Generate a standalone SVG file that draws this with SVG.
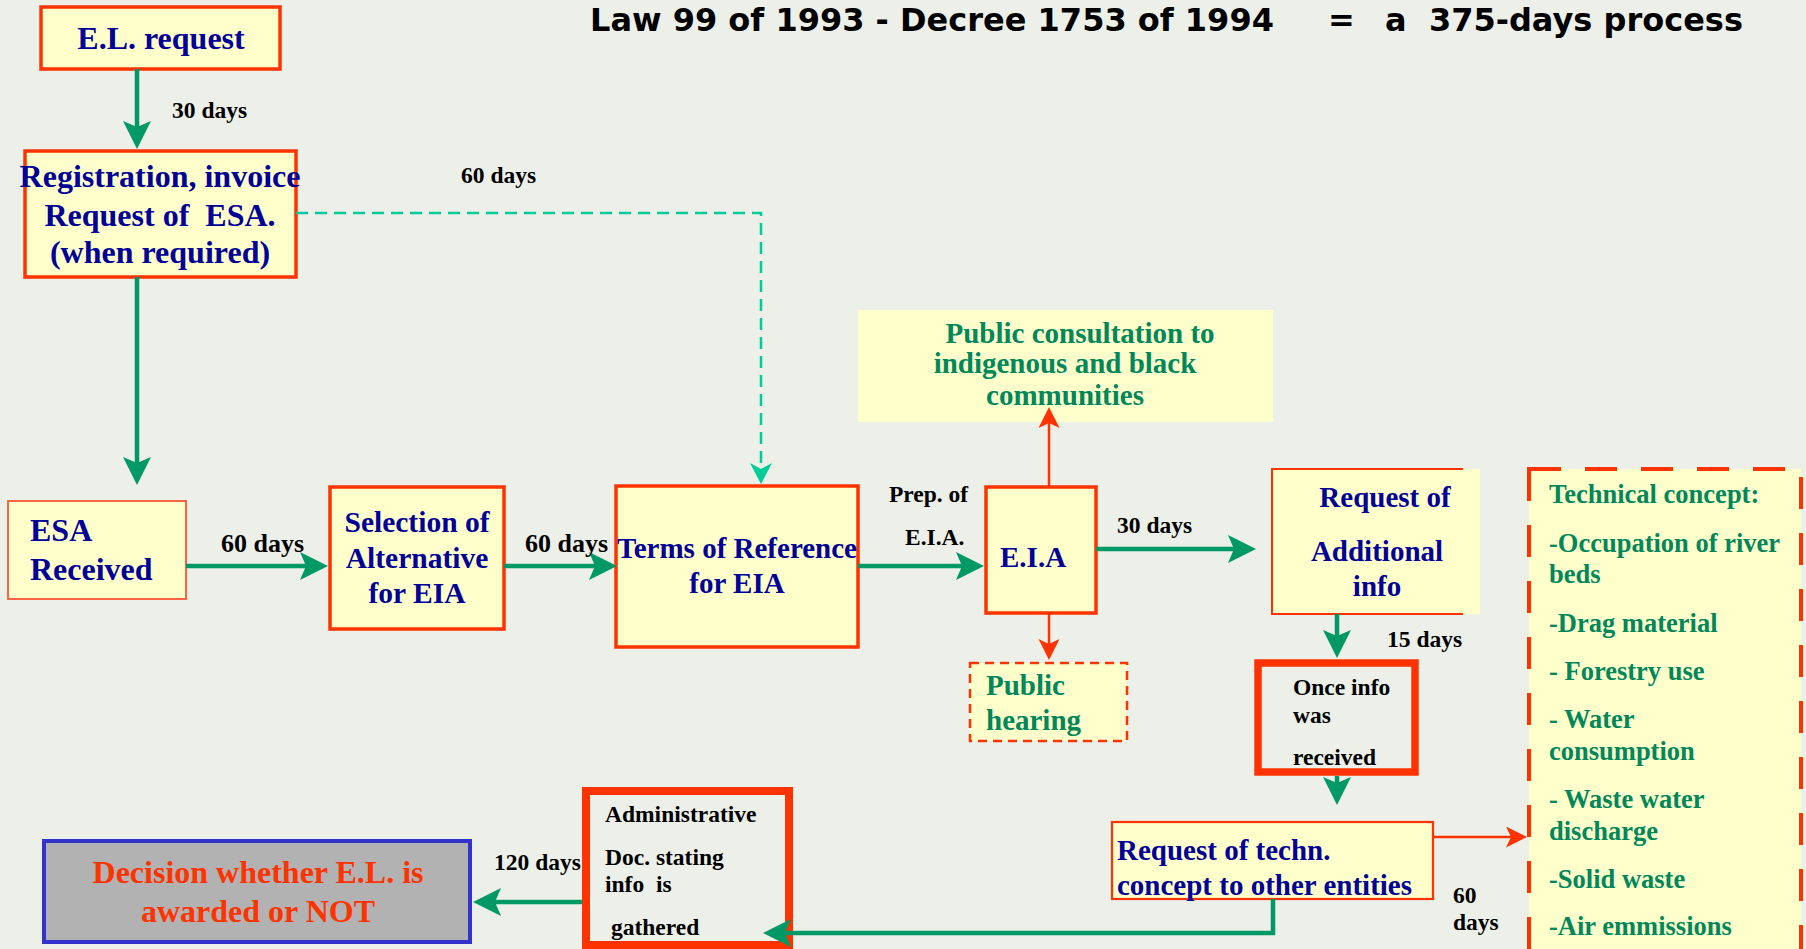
<svg xmlns="http://www.w3.org/2000/svg" width="1806" height="949" viewBox="0 0 1806 949">
<defs>
<style>
.nf{fill:#ffffcc}
.nb{fill:#ffffcc;stroke:#ff3300;stroke-width:3.5}
.t{font-family:"Liberation Serif","Times New Roman",serif;font-weight:bold}
.blue{fill:#000099}
.grn{fill:#00875a}
.blk{fill:#000000}
.lab{font-family:"Liberation Serif","Times New Roman",serif;font-weight:bold;font-size:23.5px;fill:#000}
.gl{fill:none;stroke:#009966;stroke-width:4.5}
.rl{fill:none;stroke:#ff3300;stroke-width:2.5}
.tl{fill:none;stroke:#00cc99;stroke-width:2.5;stroke-dasharray:12 7}
.pre{white-space:pre}
</style>
<marker id="ag" markerUnits="userSpaceOnUse" markerWidth="30" markerHeight="30" refX="6" refY="14" orient="auto">
<path d="M0,0 L28,14 L0,28 L6,14 Z" fill="#009966"/>
</marker>
<marker id="ar" markerUnits="userSpaceOnUse" markerWidth="24" markerHeight="24" refX="5" refY="10.5" orient="auto">
<path d="M0,0 L21,10.5 L0,21 L5,10.5 Z" fill="#ff3300"/>
</marker>
<marker id="at" markerUnits="userSpaceOnUse" markerWidth="24" markerHeight="24" refX="6" refY="11" orient="auto">
<path d="M0,0 L21,11 L0,22 L6,11 Z" fill="#00cc99"/>
</marker>
</defs>

<rect width="1806" height="949" fill="#ecf0e9"/>

<text class="t" font-size="32" fill="#000" style="font-family:'DejaVu Sans',sans-serif;white-space:pre" y="31"><tspan x="590">Law 99 of 1993 - Decree 1753 of 1994</tspan><tspan x="1328">=</tspan><tspan x="1385">a  375-days process</tspan></text>

<g id="el-request">
<rect class="nb" x="41" y="7" width="239" height="62"/>
<text class="t blue" font-size="32" x="161" y="49" text-anchor="middle">E.L. request</text>
</g>

<g id="registration">
<rect class="nb" x="25" y="151" width="271" height="126"/>
<text class="t blue pre" font-size="32" text-anchor="middle"><tspan x="160" y="187">Registration, invoice</tspan><tspan x="160" y="226">Request of  ESA.</tspan><tspan x="160" y="263">(when required)</tspan></text>
</g>

<g id="esa-received">
<rect class="nf" x="8" y="501" width="178" height="98" stroke="#ff5533" stroke-width="1.8"/>
<text class="t blue" font-size="32"><tspan x="30" y="541">ESA</tspan><tspan x="30" y="580">Received</tspan></text>
</g>

<g id="selection">
<rect class="nb" x="330" y="487" width="174" height="142"/>
<text class="t blue" font-size="29.5" text-anchor="middle"><tspan x="417" y="532">Selection of</tspan><tspan x="417" y="568">Alternative</tspan><tspan x="417" y="603">for EIA</tspan></text>
</g>

<g id="terms-of-reference">
<rect class="nb" x="616" y="486" width="242" height="161" stroke-width="3"/>
<text class="t blue" font-size="29" text-anchor="middle"><tspan x="737" y="558">Terms of Reference</tspan><tspan x="737" y="593">for EIA</tspan></text>
</g>

<g id="eia">
<rect class="nb" x="986" y="487" width="110" height="126" stroke-width="3"/>
<text class="t blue" font-size="29" x="1000" y="567">E.I.A</text>
</g>

<g id="public-consultation">
<rect class="nf" x="858" y="310" width="415" height="112"/>
<text class="t grn" font-size="29" text-anchor="middle"><tspan x="1080" y="343">Public consultation to</tspan><tspan x="1065" y="373">indigenous and black</tspan><tspan x="1065" y="405">communities</tspan></text>
</g>

<g id="public-hearing">
<rect class="nf" x="970" y="663" width="157" height="78" stroke="#ff3300" stroke-width="2.5" stroke-dasharray="9 6"/>
<text class="t grn" font-size="29"><tspan x="986" y="695">Public</tspan><tspan x="986" y="730">hearing</tspan></text>
</g>

<g id="request-additional-info">
<rect class="nf" x="1272" y="469" width="208" height="145"/>
<path d="M1463,469 H1272 V614 H1463" fill="none" stroke="#ff3300" stroke-width="2"/>
<text class="t blue" font-size="29" text-anchor="middle"><tspan x="1385" y="507">Request of</tspan><tspan x="1377" y="561">Additional</tspan><tspan x="1377" y="596">info</tspan></text>
</g>

<g id="once-info-received">
<rect x="1258" y="663" width="157" height="109" fill="none" stroke="#ff3300" stroke-width="7.5"/>
<text class="t blk" font-size="23.5"><tspan x="1293" y="695">Once info</tspan><tspan x="1293" y="723">was</tspan><tspan x="1293" y="765">received</tspan></text>
</g>

<g id="request-techn-concept">
<rect class="nf" x="1112" y="822" width="321" height="77" stroke="#ff3300" stroke-width="2.2"/>
<text class="t blue" font-size="29"><tspan x="1117" y="860">Request of techn.</tspan><tspan x="1117" y="895">concept to other entities</tspan></text>
</g>

<g id="technical-concept">
<rect class="nf" x="1529" y="469" width="272" height="500" stroke="#ff3300" stroke-width="4" stroke-dasharray="32 24"/>
<text class="t grn" font-size="26.5"><tspan x="1549" y="503">Technical concept:</tspan><tspan x="1549" y="552">-Occupation of river</tspan><tspan x="1549" y="583">beds</tspan><tspan x="1549" y="632">-Drag material</tspan><tspan x="1549" y="680">- Forestry use</tspan><tspan x="1549" y="728">- Water</tspan><tspan x="1549" y="760">consumption</tspan><tspan x="1549" y="808">- Waste water</tspan><tspan x="1549" y="840">discharge</tspan><tspan x="1549" y="888">-Solid waste</tspan><tspan x="1549" y="935">-Air emmissions</tspan></text>
</g>

<g id="administrative-doc">
<rect x="586" y="791" width="203" height="154" fill="none" stroke="#ff3300" stroke-width="8"/>
<text class="t blk pre" font-size="23.5"><tspan x="605" y="822">Administrative</tspan><tspan x="605" y="865">Doc. stating</tspan><tspan x="605" y="892">info  is</tspan><tspan x="605" y="935"> gathered</tspan></text>
</g>

<g id="decision">
<rect x="44" y="841" width="426" height="101" fill="#b2b2b2" stroke="#3333cc" stroke-width="4"/>
<text class="t" font-size="32" fill="#ff3300" text-anchor="middle"><tspan x="258" y="883">Decision whether E.L. is</tspan><tspan x="258" y="922">awarded or NOT</tspan></text>
</g>

<g id="connectors">
<path class="gl" d="M137,69 V127" marker-end="url(#ag)"/>
<path class="gl" d="M137,277 V463" marker-end="url(#ag)"/>
<path class="gl" d="M186,566 H306" marker-end="url(#ag)"/>
<path class="gl" d="M504,566 H595" marker-end="url(#ag)"/>
<path class="tl" d="M296,213 H761 V469" marker-end="url(#at)"/>
<path class="gl" d="M858,566 H962" marker-end="url(#ag)"/>
<path class="rl" d="M1049,487 V423" marker-end="url(#ar)"/>
<path class="rl" d="M1049,613 V644" marker-end="url(#ar)"/>
<path class="gl" d="M1096,549 H1234" marker-end="url(#ag)"/>
<path class="gl" d="M1337,614 V636" marker-end="url(#ag)"/>
<path class="gl" d="M1337,776 V783" marker-end="url(#ag)"/>
<path class="rl" d="M1433,837 H1511" marker-end="url(#ar)"/>
<path class="gl" d="M1273,899 V933 H785" marker-end="url(#ag)"/>
<path class="gl" d="M582,902 H495" marker-end="url(#ag)"/>
<text class="lab" x="172" y="118">30 days</text>
<text class="lab" x="461" y="183">60 days</text>
<text class="lab" x="221" y="552" style="font-size:26px">60 days</text>
<text class="lab" x="525" y="552" style="font-size:26px">60 days</text>
<text class="lab" x="889" y="502">Prep. of</text>
<text class="lab" x="905" y="545">E.I.A.</text>
<text class="lab" x="1117" y="533">30 days</text>
<text class="lab" x="1387" y="647">15 days</text>
<text class="lab" x="1453" y="903">60</text>
<text class="lab" x="1453" y="930">days</text>
<text class="lab" x="494" y="870">120 days</text>
</g>
</svg>
